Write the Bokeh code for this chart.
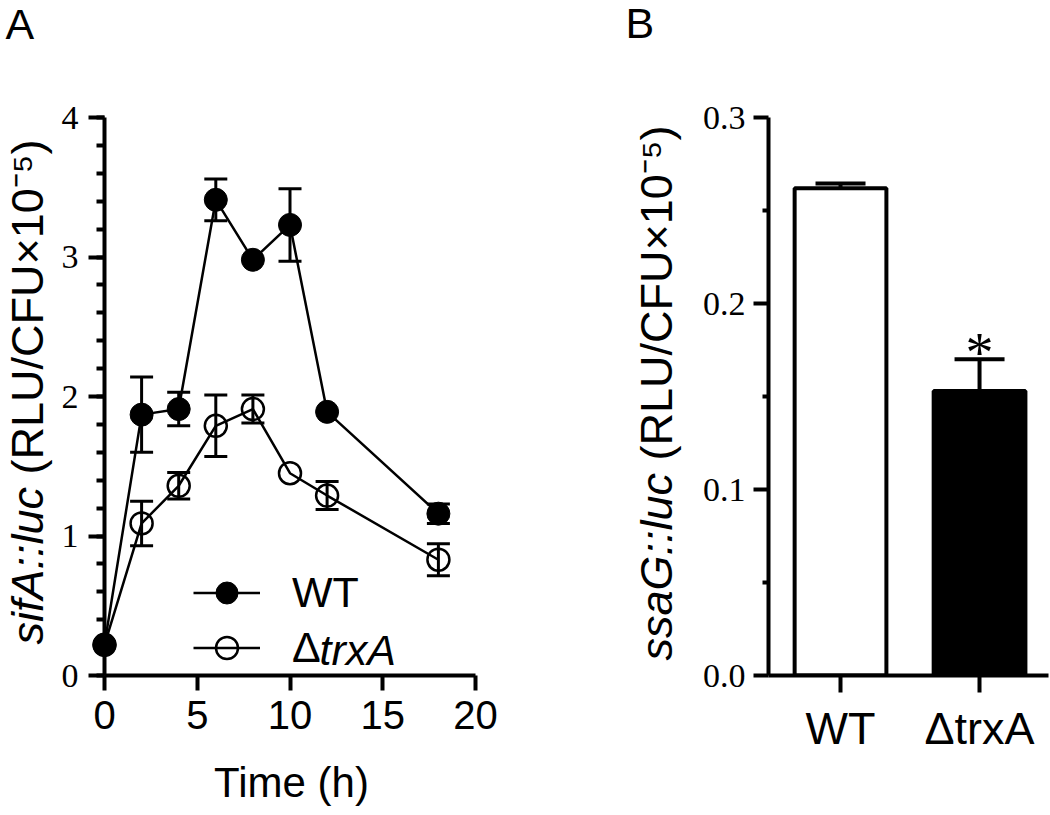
import numpy as np
from bokeh.plotting import figure
from bokeh.models import (ColumnDataSource, Whisker, TeeHead, Legend, LegendItem,
                          FixedTicker, SingleIntervalTicker, Range1d, NumeralTickFormatter)
from bokeh.layouts import row
from bokeh.embed import file_html
from bokeh.resources import INLINE
from bokeh.core.properties import value

# ---------------- data: panel A ----------------
time_h = [0, 2, 4, 6, 8, 10, 12, 18]
wt_mean = [0.22, 1.87, 1.91, 3.41, 2.98, 3.23, 1.89, 1.16]
wt_err = [0.02, 0.27, 0.12, 0.15, 0.03, 0.26, 0.04, 0.07]
trxa_mean = [0.22, 1.09, 1.36, 1.79, 1.91, 1.45, 1.29, 0.83]
trxa_err = [0.02, 0.16, 0.095, 0.22, 0.10, 0.03, 0.10, 0.115]
x_ticks_a = [0, 5, 10, 15, 20]

# ---------------- data: panel B ----------------
strains = ["WT", "ΔtrxA"]
ssag_mean = [0.262, 0.153]
ssag_err = [0.0025, 0.017]
y_ticks_b = [0.0, 0.1, 0.2, 0.3]
y_minor_b = [0.05, 0.15, 0.25]

SANS = "Liberation Sans"
SERIF = "Liberation Serif"
BASE_SHIFT = 16   # alphabetic-baseline correction of the text glyph (px)


def base_style(p):
    for ax in (p.xaxis[0], p.yaxis[0]):
        ax.axis_line_width = 4
        ax.axis_line_color = "black"
        ax.major_tick_line_width = 4
        ax.minor_tick_line_width = 4
        ax.major_tick_line_color = "black"
        ax.minor_tick_line_color = "black"
        ax.major_tick_in = 0
        ax.minor_tick_in = 0
        ax.major_label_text_color = "black"
    p.xgrid.visible = False
    p.ygrid.visible = False
    p.outline_line_color = None
    p.background_fill_color = "white"
    p.border_fill_color = "white"


def add_text(p, anchor, dx, dy, txt, size, italic=False, angle=0.0, align="left",
             baseline="alphabetic", font=SANS):
    # text anchored at a point inside the frame, shifted by screen offsets (px)
    p.text(x=[anchor[0]], y=[anchor[1]], text=[txt], x_offset=dx, y_offset=dy, angle=angle,
           text_font=value(font), text_font_size=value(size),
           text_font_style="italic" if italic else "normal",
           text_align=align, text_baseline=baseline, text_color="black", level="overlay")


# ================= Panel A =================
FW_A, FH_A = 371, 560
pa = figure(width=560, height=815, output_backend="svg", toolbar_location=None,
            x_range=Range1d(0, 20), y_range=Range1d(0, 4),
            min_border_left=104, min_border_right=560 - 104 - FW_A,
            min_border_top=115, min_border_bottom=815 - 115 - FH_A)
base_style(pa)
pa.xaxis.ticker = FixedTicker(ticks=x_ticks_a)
pa.xaxis.major_tick_out = 15
pa.xaxis.major_label_standoff = 10
pa.xaxis.major_label_text_font = SANS
pa.xaxis.major_label_text_font_size = "40px"
pa.yaxis.ticker = SingleIntervalTicker(interval=1, num_minor_ticks=5)
pa.yaxis.major_tick_out = 16
pa.yaxis.minor_tick_out = 8
pa.yaxis.major_label_standoff = 10
pa.yaxis.major_label_text_font = SERIF
pa.yaxis.major_label_text_font_size = "34px"

t = np.array(time_h, dtype=float)
for mean, err in ((wt_mean, wt_err), (trxa_mean, trxa_err)):
    m = np.array(mean)
    e = np.array(err)
    vis = e >= 0.05
    src = ColumnDataSource(dict(x=t[vis], lower=(m - e)[vis], upper=(m + e)[vis]))
    w = Whisker(source=src, base="x", lower="lower", upper="upper", dimension="height",
                line_width=3, line_color="black", level="annotation",
                upper_head=TeeHead(size=23, line_width=3, line_color="black"),
                lower_head=TeeHead(size=23, line_width=3, line_color="black"))
    pa.add_layout(w)

l_wt = pa.line(time_h, wt_mean, line_width=2.5, line_color="black", level="annotation")
l_ko = pa.line(time_h, trxa_mean, line_width=2.5, line_color="black", level="annotation")
s_wt = pa.scatter(time_h, wt_mean, marker="circle", size=23, fill_color="black",
                  line_color="black", line_width=1, level="overlay")
s_ko = pa.scatter(time_h, trxa_mean, marker="circle", size=22, fill_alpha=0,
                  line_color="black", line_width=2.5, level="overlay")

legend = Legend(items=[LegendItem(label="WT", renderers=[l_wt, s_wt]),
                       LegendItem(label="Δ", renderers=[l_ko, s_ko])],
                location=(89, 0), glyph_width=67, glyph_height=55, spacing=0,
                label_standoff=32, padding=0, margin=0, border_line_alpha=0,
                background_fill_alpha=0, label_text_font=SANS, label_text_color="black",
                label_text_font_size="43px", label_height=55)
pa.add_layout(legend)

ca = ((0 + 20) / 2, (0 + 4) / 2)          # frame centre, page (289.5, 395)
add_text(pa, ca, 29.5, 253, "trxA", "43px", italic=True, baseline="middle")
add_text(pa, ca, -246.5 - BASE_SHIFT, 248, "sifA::luc", "45px", italic=True, angle=np.pi / 2)
add_text(pa, ca, -246.5 - BASE_SHIFT, 78, "(RLU/CFU×10⁻⁵)", "45px", angle=np.pi / 2)
add_text(pa, ca, 1.5, 402 - BASE_SHIFT, "Time (h)", "42px", align="center")
add_text(pa, ca, -284.5, -357 - BASE_SHIFT, "A", "43px")

# ================= Panel B =================
FW_B, FH_B = 280, 558
pos = list(range(1, len(strains) + 1))
xb0, xb1 = 0.482, 2.496
pb = figure(width=490, height=815, output_backend="svg", toolbar_location=None,
            x_range=Range1d(xb0, xb1), y_range=Range1d(0, 0.3),
            min_border_left=208, min_border_right=490 - 208 - FW_B,
            min_border_top=117, min_border_bottom=815 - 117 - FH_B)
base_style(pb)
pb.vbar(x=pos, top=ssag_mean, bottom=0, width=0.66, fill_color=["white", "black"],
        line_color="black", line_width=4)
mb = np.array(ssag_mean)
eb = np.array(ssag_err)
src_b = ColumnDataSource(dict(x=pos, lower=mb, upper=mb + eb))
pb.add_layout(Whisker(source=src_b, base="x", lower="lower", upper="upper", dimension="height",
                      line_width=4, line_color="black", level="overlay",
                      upper_head=TeeHead(size=50, line_width=4, line_color="black"),
                      lower_head=None))
pb.text(x=[pos[1]], y=[float(mb[1] + eb[1])], text=["*"], y_offset=-6,
        text_font=value(SERIF), text_font_size=value("56px"), text_align="center",
        text_baseline="alphabetic", text_color="black", level="overlay")

pb.xaxis.ticker = FixedTicker(ticks=pos)
pb.xaxis.major_label_overrides = {p_: s for p_, s in zip(pos, strains)}
pb.xaxis.major_tick_out = 17
pb.xaxis.major_label_standoff = 10
pb.xaxis.major_label_text_font = SANS
pb.xaxis.major_label_text_font_size = "45px"
pb.yaxis.ticker = FixedTicker(ticks=y_ticks_b, minor_ticks=y_minor_b)
pb.yaxis.formatter = NumeralTickFormatter(format="0.0")
pb.yaxis.major_tick_out = 15
pb.yaxis.minor_tick_out = 6
pb.yaxis.major_label_standoff = 8
pb.yaxis.major_label_text_font = SERIF
pb.yaxis.major_label_text_font_size = "34px"

cb = ((xb0 + xb1) / 2, 0.15)               # frame centre, page (908, 396)
add_text(pb, cb, -236 - BASE_SHIFT, 264, "ssaG::luc", "45px", italic=True, angle=np.pi / 2)
add_text(pb, cb, -236 - BASE_SHIFT, 64, "(RLU/CFU×10⁻⁵)", "45px", angle=np.pi / 2)
add_text(pb, cb, -283, -358 - BASE_SHIFT, "B", "43px")

layout = row(pa, pb)
open("out.html", "w").write(file_html(layout, INLINE))
